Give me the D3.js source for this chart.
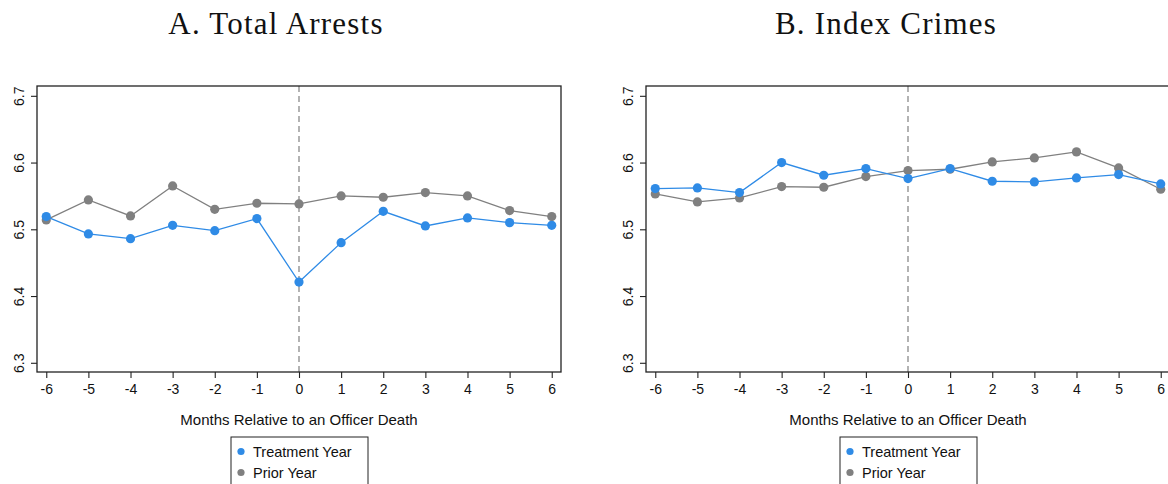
<!DOCTYPE html>
<html>
<head>
<meta charset="utf-8">
<script src="https://cdn.jsdelivr.net/npm/d3@7"></script>
<style>
  html, body { margin: 0; padding: 0; background: #fff; }
  svg { display: block; }
</style>
</head>
<body>
<svg id="chart" width="1168" height="484"></svg>
<script>
// Months relative to an officer death
const months = [-6, -5, -4, -3, -2, -1, 0, 1, 2, 3, 4, 5, 6];
const yTicks = [6.3, 6.4, 6.5, 6.6, 6.7];
const seriesNames = ["Treatment Year", "Prior Year"];

// Panel A: log total arrests
const arrestsTreatment = [6.519, 6.493, 6.486, 6.506, 6.498, 6.516, 6.421, 6.480, 6.527, 6.505, 6.517, 6.510, 6.506];
const arrestsPrior     = [6.514, 6.544, 6.520, 6.565, 6.530, 6.539, 6.538, 6.550, 6.548, 6.555, 6.550, 6.528, 6.519];

// Panel B: log index crimes
const indexTreatment = [6.561, 6.562, 6.555, 6.600, 6.581, 6.591, 6.576, 6.591, 6.572, 6.571, 6.577, 6.582, 6.568];
const indexPrior     = [6.553, 6.541, 6.547, 6.564, 6.563, 6.579, 6.588, 6.590, 6.601, 6.607, 6.616, 6.592, 6.560];

const panels = [
  { title: "A. Total Arrests", titleX: 276, left: 37, treatment: arrestsTreatment, prior: arrestsPrior },
  { title: "B. Index Crimes", titleX: 886, left: 646, treatment: indexTreatment, prior: indexPrior }
];

const colors = { treatment: "#2f8be6", prior: "#808080" };
const plotW = 524, plotTop = 86, plotBottom = 372;
const sans = "'Liberation Sans', Arial, Helvetica, sans-serif";

const svg = d3.select("#chart");

panels.forEach(p => {
  const g = svg.append("g");
  const x = d3.scaleLinear().domain([-6.22, 6.22]).range([p.left, p.left + plotW]);
  const y = d3.scaleLinear().domain([6.2862, 6.7147]).range([plotBottom, plotTop]);

  // title
  g.append("text")
    .attr("x", p.titleX).attr("y", 34)
    .attr("text-anchor", "middle")
    .attr("font-family", "'Liberation Serif', 'Times New Roman', serif")
    .attr("font-size", 31).attr("letter-spacing", 1.2)
    .attr("fill", "#111")
    .text(p.title);

  // reference line at the month of death
  g.append("line")
    .attr("x1", x(0)).attr("x2", x(0))
    .attr("y1", plotTop).attr("y2", plotBottom)
    .attr("stroke", "#8a8a8a").attr("stroke-width", 1.3)
    .attr("stroke-dasharray", "6,4");

  // series lines and markers (prior year drawn first)
  const line = d3.line().x((d, i) => x(months[i])).y(d => y(d));
  [["prior", p.prior], ["treatment", p.treatment]].forEach(([key, vals]) => {
    g.append("path").datum(vals)
      .attr("d", line).attr("fill", "none")
      .attr("stroke", colors[key]).attr("stroke-width", 1.3);
    g.selectAll(null).data(vals).enter().append("circle")
      .attr("cx", (d, i) => x(months[i])).attr("cy", d => y(d))
      .attr("r", 4.6).attr("fill", colors[key]);
  });

  // plot frame
  g.append("rect")
    .attr("x", p.left).attr("y", plotTop)
    .attr("width", plotW).attr("height", plotBottom - plotTop)
    .attr("fill", "none").attr("stroke", "#222").attr("stroke-width", 1.3);

  // x axis
  const xAxis = g.append("g")
    .attr("transform", `translate(0,${plotBottom})`)
    .call(d3.axisBottom(x).tickValues(months).tickSize(6).tickPadding(6).tickFormat(d3.format("d")));
  xAxis.select(".domain").remove();
  xAxis.selectAll("line").attr("stroke", "#222").attr("stroke-width", 1.1);
  xAxis.selectAll("text").attr("font-family", sans).attr("font-size", 14).attr("fill", "#111")
    .text(d => d < 0 ? "-" + Math.abs(d) : d);

  // y axis with rotated labels
  const yAxis = g.append("g")
    .attr("transform", `translate(${p.left},0)`)
    .call(d3.axisLeft(y).tickValues(yTicks).tickSize(6).tickFormat(d3.format(".1f")));
  yAxis.select(".domain").remove();
  yAxis.selectAll("line").attr("stroke", "#222").attr("stroke-width", 1.1);
  yAxis.selectAll("text")
    .attr("font-family", sans).attr("font-size", 14).attr("fill", "#111")
    .attr("x", null).attr("dy", null)
    .attr("text-anchor", "middle")
    .attr("transform", "translate(-13,0) rotate(-90)");

  // x axis title
  const cx = x(0);
  g.append("text")
    .attr("x", cx).attr("y", 425)
    .attr("text-anchor", "middle")
    .attr("font-family", sans).attr("font-size", 15).attr("fill", "#111")
    .text("Months Relative to an Officer Death");

  // legend
  const lg = g.append("g").attr("transform", `translate(${cx - 68},437)`);
  lg.append("rect")
    .attr("x", 0).attr("y", 0).attr("width", 137).attr("height", 60)
    .attr("fill", "#fff").attr("stroke", "#222").attr("stroke-width", 1);
  seriesNames.forEach((name, i) => {
    const key = i === 0 ? "treatment" : "prior";
    lg.append("circle").attr("cx", 10).attr("cy", 14.5 + i * 21).attr("r", 3.6).attr("fill", colors[key]);
    lg.append("text")
      .attr("x", 22).attr("y", 19.5 + i * 21)
      .attr("font-family", sans).attr("font-size", 14.5).attr("fill", "#111")
      .text(name);
  });
});
</script>
</body>
</html>
